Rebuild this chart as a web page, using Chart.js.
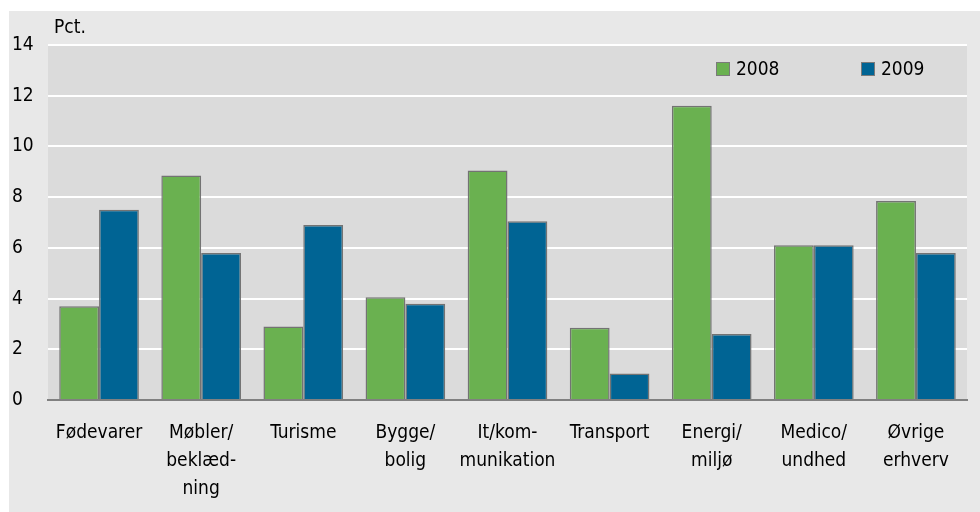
<!DOCTYPE html>
<html>
<head>
<meta charset="utf-8">
<script src="https://cdn.jsdelivr.net/npm/chart.js@4/dist/chart.umd.min.js"></script>
<style>
  html, body { margin: 0; padding: 0; background: #fff; }
  #wrap { width: 980px; height: 512px; }
</style>
</head>
<body>
<div id="wrap"><canvas id="bars" width="980" height="512"></canvas></div>
<script>
const categories = [
    'Fødevarer',
    ['Møbler/', 'beklæd-', 'ning'],
    'Turisme',
    ['Bygge/', 'bolig'],
    ['It/kom-', 'munikation'],
    'Transport',
    ['Energi/', 'miljø'],
    ['Medico/', 'undhed'],
    ['Øvrige', 'erhverv']
];
const values2008 = [3.7, 8.85, 2.9, 4.05, 9.05, 2.85, 11.6, 6.1, 7.85];
const values2009 = [7.5, 5.8, 6.9, 3.8, 7.05, 1.05, 2.6, 6.1, 5.8];
const yTicks = [0, 2, 4, 6, 8, 10, 12, 14];

const FONT = '"Liberation Sans Narrow", "DejaVu Sans Condensed", sans-serif';

// panel + plot background, "Pct." label and legend
const backdrop = {
    id: 'backdrop',
    beforeDraw(chart) {
        const c = chart.ctx, a = chart.chartArea;
        c.save();
        c.fillStyle = '#ffffff';
        c.fillRect(0, 0, chart.width, chart.height);
        c.fillStyle = '#e8e8e8';
        c.fillRect(9, 11, chart.width - 9, chart.height - 11);
        c.fillStyle = '#dbdbdb';
        c.fillRect(a.left, a.top, a.right - a.left, a.bottom - a.top);
        c.restore();
    },
    afterDraw(chart) {
        const c = chart.ctx, a = chart.chartArea;
        c.save();
        c.font = '19px ' + FONT;
        c.fillStyle = '#000';
        c.textBaseline = 'middle';
        c.textAlign = 'left';
        c.fillText('Pct.', a.left + 6, 28);
        const slots = [716, 861];
        chart.data.datasets.forEach((ds, i) => {
            const x = slots[i], y = 69;
            c.fillStyle = ds.backgroundColor;
            c.fillRect(x, y - 7, 14, 14);
            c.strokeStyle = '#7a7a7a';
            c.lineWidth = 1;
            c.strokeRect(x + 0.5, y - 6.5, 13, 13);
            c.fillStyle = '#000';
            c.fillText(ds.label, x + 20, y + 1);
        });
        c.restore();
    }
};

new Chart(document.getElementById('bars').getContext('2d'), {
    type: 'bar',
    data: {
        labels: categories,
        datasets: [{
            label: '2008',
            data: values2008,
            backgroundColor: '#6ab150',
            borderColor: '#737373',
            borderWidth: 1.5
        }, {
            label: '2009',
            data: values2009,
            backgroundColor: '#006494',
            borderColor: '#737373',
            borderWidth: 1.5
        }]
    },
    options: {
        responsive: false,
        animation: false,
        events: [],
        categoryPercentage: 0.78,
        barPercentage: 1,
        layout: { padding: { left: 12, right: 13, top: 45, bottom: 0 } },
        plugins: {
            legend: { display: false },
            tooltip: { enabled: false }
        },
        scales: {
            x: {
                grid: { display: false, drawTicks: false },
                border: { display: true, color: '#808080', width: 2 },
                ticks: {
                    color: '#000',
                    font: { family: FONT, size: 19, lineHeight: 1.47 },
                    padding: 19,
                    maxRotation: 0,
                    autoSkip: false
                },
                afterFit(scale) { scale.height = 112; }
            },
            y: {
                min: 0,
                max: 14,
                afterBuildTicks(scale) { scale.ticks = yTicks.map(v => ({ value: v })); },
                grid: {
                    color: ctx => ctx.tick && ctx.tick.value === 0 ? 'rgba(0,0,0,0)' : '#ffffff',
                    lineWidth: 2,
                    drawTicks: false
                },
                border: { display: false },
                ticks: {
                    color: '#000',
                    crossAlign: 'far',
                    font: { family: FONT, size: 19 },
                    padding: 4
                },
                afterFit(scale) { scale.width = 36; }
            }
        }
    },
    plugins: [backdrop]
});
</script>
</body>
</html>
